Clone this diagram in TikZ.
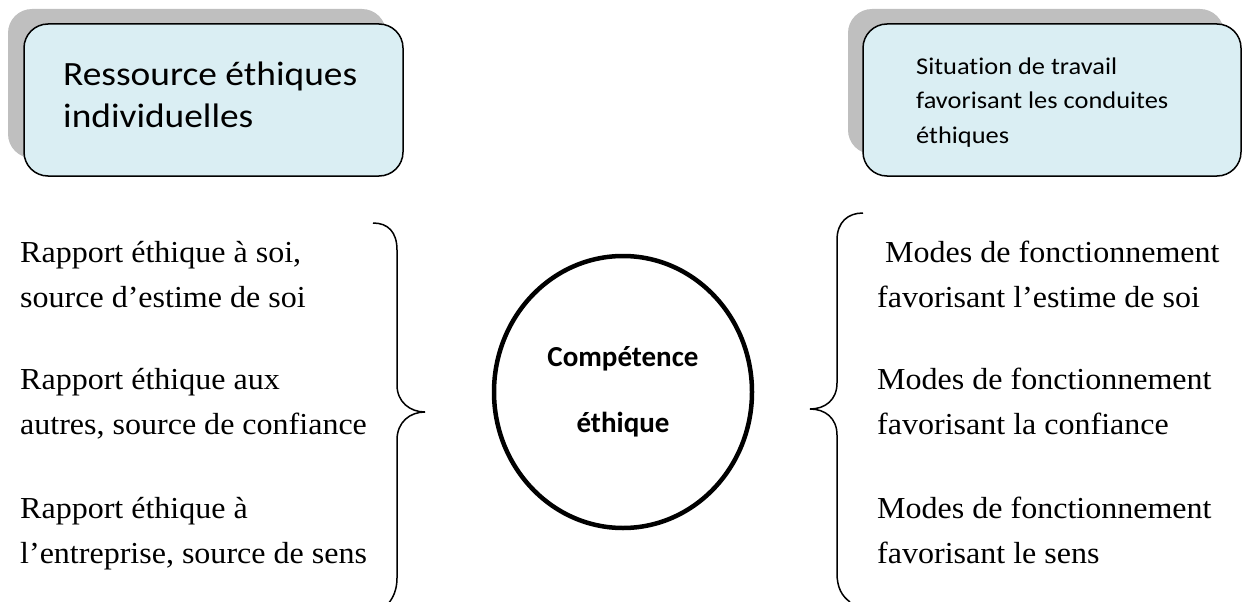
\documentclass[tikz,border=0pt]{standalone}
\usepackage{fontspec}
\usetikzlibrary{shapes.geometric}
\setmainfont{Liberation Serif}[FakeStretch=1.05]
\newfontfamily\carlito{Carlito}[FakeStretch=1.1, Ligatures=NoCommon]
\newfontfamily\carlitob{Carlito}[Ligatures=NoCommon]
\definecolor{boxblue}{HTML}{DAEEF3}
\definecolor{shadowgray}{HTML}{BFBFBF}

\begin{document}
\begin{tikzpicture}[x=1pt, y=-1pt,
    box/.style={draw, line width=1.5pt, rounded corners=24pt, fill=boxblue},
    shade/.style={fill=shadowgray, rounded corners=24pt},
    item/.style={anchor=base west, inner sep=0pt, align=left,
                 font=\fontsize{30.5}{45}\selectfont},
    brace/.style={line width=1.5pt}]
    \useasboundingbox (0,0) rectangle (1243,602);
    % top boxes
    \fill[shade] (8,9) rectangle (386,158);
    \draw[box] (24,24) rectangle (403,176);
    \node[anchor=base west, inner sep=0pt, align=left,
          font=\carlito\fontsize{34}{43}\selectfont] (res) at (63,128)
          {Ressource éthiques\\individuelles};
    \fill[shade] (848,9) rectangle (1224,154);
    \draw[box] (863,24) rectangle (1241,176);
    \node[anchor=base west, inner sep=0pt, align=left,
          font=\carlito\fontsize{24}{34.5}\selectfont] (sit) at (916,143)
          {Situation de travail\\favorisant les conduites\\éthiques};
    % left column (base = last line)
    \node[item] (l1) at (20,307) {Rapport éthique à soi,\\source d’estime de soi};
    \node[item] (l2) at (20,434) {Rapport éthique aux\\autres, source de confiance};
    \node[item] (l3) at (20,563) {Rapport éthique à\\l’entreprise, source de sens};
    % right column
    \node[item] (r1) at (877,307) {\ Modes de fonctionnement\\favorisant l’estime de soi};
    \node[item] (r2) at (877,434) {Modes de fonctionnement\\favorisant la confiance};
    \node[item] (r3) at (877,563) {Modes de fonctionnement\\favorisant le sens};
    % centre
    \node[draw, ellipse, line width=4.5pt, minimum width=258pt, minimum height=272pt,
          align=center, font=\carlitob\bfseries\fontsize{29}{66}\selectfont]
          (comp) at (623,392) {Compétence\\éthique};
    % braces
    \draw[brace] (373,223) .. controls (388,223) and (397,232) .. (397,250) -- (397,385)
        .. controls (397,402) and (410,412) .. (425,412)
        .. controls (410,412) and (397,422) .. (397,440) -- (397,578)
        .. controls (397,590) and (393,598) .. (388,604);
    \draw[brace] (863,213) .. controls (848,213) and (837,222) .. (837,240) -- (837,383)
        .. controls (837,400) and (825,409) .. (810,409)
        .. controls (825,409) and (837,418) .. (837,435) -- (837,573)
        .. controls (837,588) and (842,596) .. (850,602);
\end{tikzpicture}
\end{document}
